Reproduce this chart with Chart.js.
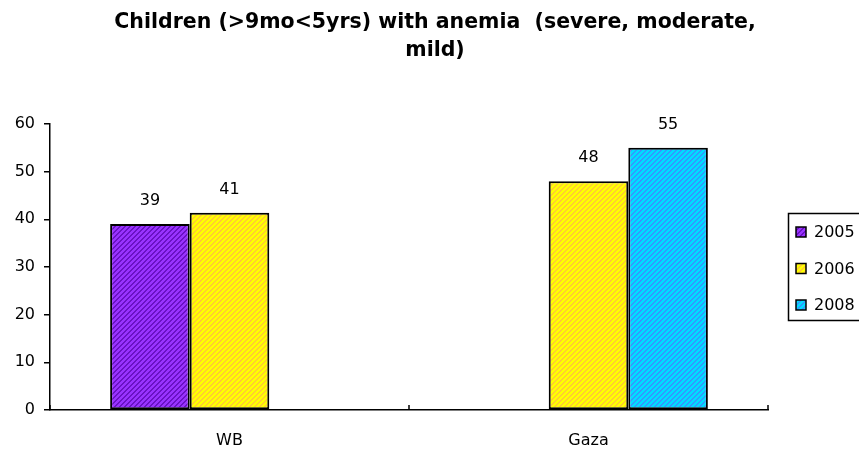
<!DOCTYPE html>
<html>
<head>
<meta charset="utf-8">
<script src="https://cdn.jsdelivr.net/npm/chart.js@4/dist/chart.umd.min.js"></script>
<style>
  html, body { margin: 0; padding: 0; background: #fff; overflow: hidden; }
</style>
</head>
<body>
<canvas id="anemiaChart" width="859" height="451"></canvas>
<script>
// chart data
const titleLines = ["Children (>9mo<5yrs) with anemia  (severe, moderate,", "mild)"];
const categories = ["WB", "Gaza"];
const seriesNames = ["2005", "2006", "2008"];
const values2005 = [39, null];
const values2006 = [41.4, 48];
const values2008 = [null, 55];
const yTicks = [0, 10, 20, 30, 40, 50, 60];

// striped fills like the excel pattern ("/" stripes)
function makeStripes(light, dark) {
    const n = 5;
    const c = document.createElement("canvas");
    c.width = n; c.height = n;
    const g = c.getContext("2d");
    g.fillStyle = light;
    g.fillRect(0, 0, n, n);
    g.fillStyle = dark;
    for (let x = 0; x < n; x++) {
        for (let y = 0; y < n; y++) {
            if ((x + y) % n < 2) g.fillRect(x, y, 1, 1);
        }
    }
    return g.createPattern(c, "repeat");
}

const fills = [
    makeStripes("#9933ff", "#6a12c4"),
    makeStripes("#ffff00", "#ffcc33"),
    makeStripes("#00ddff", "#3399ff")
];

const font = "DejaVu Sans";

// title drawn by hand so it centres on the whole picture like the original
const titleText = {
    id: "titleText",
    afterDraw(chart) {
        const ctx = chart.ctx;
        ctx.save();
        ctx.font = "bold 20.5px '" + font + "'";
        ctx.fillStyle = "#000";
        ctx.textAlign = "center";
        ctx.textBaseline = "middle";
        titleLines.forEach((line, i) => {
            ctx.fillText(line, 435, 23 + i * 28);
        });
        ctx.restore();
    }
};

// value labels above the bars
const barLabels = {
    id: "barLabels",
    afterDatasetsDraw(chart) {
        const ctx = chart.ctx;
        ctx.save();
        ctx.font = "16px '" + font + "'";
        ctx.fillStyle = "#000";
        ctx.textAlign = "center";
        ctx.textBaseline = "middle";
        chart.data.datasets.forEach((ds, i) => {
            chart.getDatasetMeta(i).data.forEach((bar, j) => {
                const v = ds.data[j];
                if (v === null) return;
                ctx.fillText(String(Math.round(v)), bar.x, bar.y - 23);
            });
        });
        ctx.restore();
    }
};

// inward tick marks on the category axis + boxed legend on the right
const extras = {
    id: "extras",
    afterDraw(chart) {
        const ctx = chart.ctx;
        const x = chart.scales.x;
        const area = chart.chartArea;
        ctx.save();
        ctx.strokeStyle = "#000";
        ctx.lineWidth = 1.5;
        const marks = [x.left, x.right];
        for (let i = 1; i < categories.length; i++) {
            marks.push((x.getPixelForValue(i - 1) + x.getPixelForValue(i)) / 2);
        }
        marks.forEach(px => {
            ctx.beginPath();
            ctx.moveTo(px, area.bottom);
            ctx.lineTo(px, area.bottom - 5);
            ctx.stroke();
        });

        // legend
        ctx.lineWidth = 1.5;
        ctx.strokeRect(788.5, 213.5, 100, 107);
        ctx.font = "16px '" + font + "'";
        ctx.textBaseline = "middle";
        ctx.textAlign = "left";
        const rows = [232, 268.5, 305];
        chart.data.datasets.forEach((ds, i) => {
            const cy = rows[i];
            ctx.fillStyle = ds.backgroundColor;
            ctx.fillRect(796, cy - 5, 10, 10);
            ctx.lineWidth = 1.5;
            ctx.strokeRect(796, cy - 5, 10, 10);
            ctx.fillStyle = "#000";
            ctx.fillText(ds.label, 814, cy + 1);
        });
        ctx.restore();
    }
};

const ctx = document.getElementById("anemiaChart").getContext("2d");

new Chart(ctx, {
    type: "bar",
    data: {
        labels: categories,
        datasets: [
            { label: seriesNames[0], data: values2005, backgroundColor: fills[0] },
            { label: seriesNames[1], data: values2006, backgroundColor: fills[1] },
            { label: seriesNames[2], data: values2008, backgroundColor: fills[2] }
        ].map(d => Object.assign(d, {
            borderColor: "#000",
            borderWidth: 2,
            borderSkipped: false,
            categoryPercentage: 0.665,
            barPercentage: 1.0
        }))
    },
    options: {
        responsive: false,
        animation: false,
        layout: { padding: { left: 0, right: 91, top: 124, bottom: 0 } },
        plugins: {
            legend: { display: false },
            tooltip: { enabled: false },
            title: { display: false }
        },
        scales: {
            x: {
                grid: { display: false, drawTicks: false },
                border: { display: true, color: "#000", width: 1.5 },
                ticks: { color: "#000", font: { family: font, size: 16 }, padding: 21 },
                afterFit(scale) { scale.height = 41; }
            },
            y: {
                min: yTicks[0],
                max: yTicks[yTicks.length - 1],
                grid: { drawOnChartArea: false, drawTicks: true, tickLength: 6, color: "#000", lineWidth: 1.5 },
                border: { display: true, color: "#000", width: 1.5 },
                ticks: { stepSize: yTicks[1] - yTicks[0], color: "#000", font: { family: font, size: 16 }, padding: 9 },
                afterFit(scale) { scale.width = 50; }
            }
        }
    },
    plugins: [barLabels, extras, titleText]
});
</script>
</body>
</html>
